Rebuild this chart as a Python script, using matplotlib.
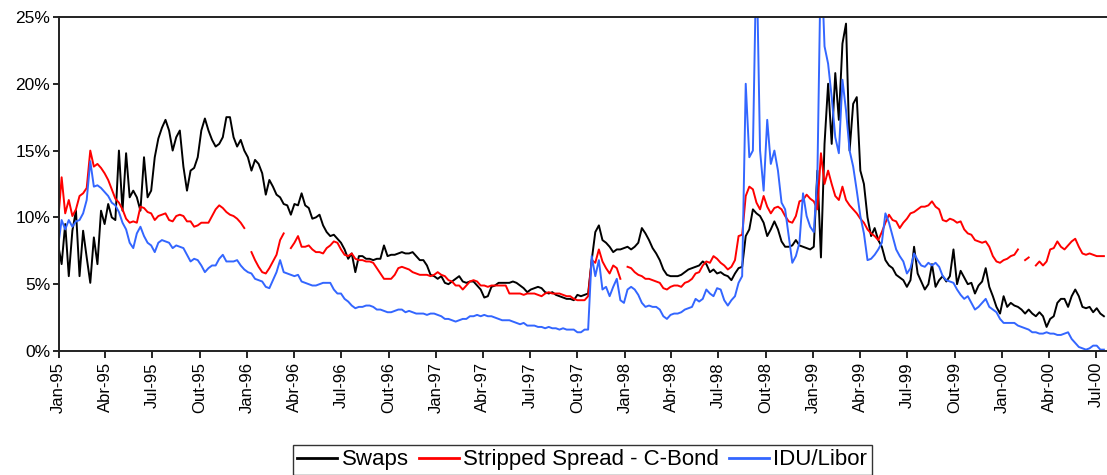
import numpy as np
import pandas as pd
import matplotlib
matplotlib.use('Agg')
import matplotlib.pyplot as plt

nan = np.nan

# roughly weekly readings, end of Dec-94 to mid Jul-00 (values in %)
dates = pd.date_range('1994-12-31', '2000-07-16', periods=293)

swaps = [
    8.0, 6.5, 9.5, 5.6, 9.0, 10.5, 5.6, 9.0, 7.0, 5.1,
    8.5, 6.5, 10.5, 9.5, 11.0, 10.0, 9.8, 15.0, 10.5, 14.8,
    11.5, 12.0, 11.5, 10.5, 14.5, 11.5, 12.0, 14.5, 15.9, 16.7,
    17.3, 16.5, 15.0, 16.0, 16.5, 13.8, 12.0,
    13.5, 13.7, 14.5, 16.5, 17.4, 16.5, 15.8, 15.3, 15.5, 16.0,
    17.5, 17.5, 16.0, 15.3, 15.8, 15.0, 14.5, 13.5, 14.3, 14.0,
    13.3, 11.7, 12.8, 12.3, 11.7, 11.5, 11.0, 10.9, 10.2, 11.0,
    10.9, 11.8, 10.9, 10.7, 9.9, 10.0, 10.2,
    9.4, 8.9, 8.6, 8.7, 8.4, 8.1, 7.6, 6.9, 7.3, 5.9,
    7.1, 7.1, 6.9, 6.9, 6.8, 6.9, 6.9, 7.9, 7.1, 7.2,
    7.2, 7.3, 7.4, 7.3, 7.3, 7.4, 7.1, 6.8, 6.8, 6.4,
    5.7, 5.6, 5.4, 5.6, 5.1, 5.0,
    5.2, 5.4, 5.6, 5.2, 5.1, 5.2, 5.2, 4.9, 4.6, 4.0,
    4.1, 4.8, 4.9, 5.1, 5.1, 5.1, 5.1, 5.2, 5.1, 4.9,
    4.7, 4.4, 4.6, 4.7, 4.8, 4.7, 4.4, 4.3, 4.4, 4.2,
    4.1, 4.0, 3.9, 3.9, 3.8, 4.2,
    4.1, 4.2, 4.3, 6.8, 8.9, 9.4, 8.3, 8.1, 7.8, 7.4,
    7.6, 7.6, 7.7, 7.8, 7.6, 7.8, 8.1, 9.2, 8.8, 8.3,
    7.7, 7.3, 6.8, 6.1, 5.7, 5.6, 5.6, 5.6, 5.7, 5.9,
    6.1, 6.2, 6.3, 6.4, 6.7, 6.5,
    5.9, 6.1, 5.8, 5.9, 5.7, 5.6, 5.3, 5.8, 6.2, 6.3,
    8.6, 9.1, 10.6, 10.3, 10.1, 9.6, 8.6, 9.1, 9.7, 9.1,
    8.2, 7.8, 7.8, 7.9, 8.3, 7.9, 7.8, 7.7, 7.6, 7.8,
    13.5, 7.0, 15.5, 20.0, 15.5, 20.8, 17.3,
    23.0, 24.5, 15.0, 18.5, 19.0, 13.5, 12.5, 10.0, 8.6, 9.2,
    8.3, 7.8, 6.8, 6.4, 6.2, 5.7, 5.5, 5.3, 4.8, 5.3,
    7.8, 5.8, 5.2, 4.6, 5.0, 6.5, 4.8, 5.3, 5.6, 5.2,
    5.6, 7.6, 5.0, 6.0, 5.5, 5.0,
    5.1, 4.3, 4.9, 5.2, 6.2, 4.8, 4.1, 3.3, 2.8, 4.1,
    3.3, 3.6, 3.4, 3.3, 3.1, 2.8, 3.1, 2.8, 2.6, 2.9,
    2.6, 1.8, 2.4, 2.6, 3.6, 3.9, 3.9, 3.3, 4.1, 4.6,
    4.1, 3.3, 3.2, 3.3, 2.9, 3.2, 2.8, 2.6,
]

c_bond = [
    9.6, 13.0, 10.3, 11.3, 10.1, 10.6, 11.6, 11.8, 12.2, 15.0,
    13.8, 14.0, 13.7, 13.3, 12.8, 12.1, 11.4, 11.1, 10.6, 9.9,
    9.6, 9.7, 9.6, 10.8, 10.7, 10.4, 10.3, 9.8, 10.1, 10.2,
    10.3, 9.8, 9.7, 10.1, 10.2, 10.1, 9.7,
    9.7, 9.3, 9.4, 9.6, 9.6, 9.6, 10.1, 10.6, 10.9, 10.7,
    10.4, 10.2, 10.1, 9.9, 9.6, 9.2, nan, 7.4, 6.8, 6.3,
    5.9, 5.8, 6.2, 6.7, 7.2, 8.3, 8.8, nan, 7.7, 8.1,
    8.6, 7.8, 7.8, 7.9, 7.6, 7.4, 7.4,
    7.3, 7.7, 7.9, 8.2, 8.1, 7.6, 7.2, 7.1, 7.3, 6.9,
    6.8, 6.8, 6.7, 6.7, 6.6, 6.2, 5.8, 5.4, 5.4, 5.4,
    5.7, 6.2, 6.3, 6.2, 6.1, 5.9, 5.8, 5.7, 5.7, 5.7,
    5.6, 5.7, 5.9, 5.7, 5.6, 5.3,
    5.2, 4.9, 4.9, 4.6, 4.9, 5.2, 5.3, 5.2, 4.9, 4.9,
    4.8, 4.9, 4.9, 4.9, 4.9, 4.9, 4.3, 4.3, 4.3, 4.3,
    4.2, 4.3, 4.3, 4.3, 4.2, 4.1, 4.3, 4.4, 4.3, 4.3,
    4.3, 4.2, 4.1, 4.1, 3.9, 3.8,
    3.8, 3.8, 4.1, 6.8, 6.6, 7.6, 6.7, 6.2, 5.8, 6.4,
    6.2, 5.4, nan, 6.3, 6.2, 5.9, 5.7, 5.6, 5.4, 5.4,
    5.3, 5.2, 5.1, 4.7, 4.6, 4.8, 4.9, 4.9, 4.8, 5.1,
    5.2, 5.4, 5.8, 5.9, 6.4, 6.7,
    6.6, 7.1, 6.9, 6.6, 6.4, 6.1, 6.3, 6.8, 8.6, 8.7,
    11.6, 12.3, 12.1, 11.1, 10.6, 11.6, 10.8, 10.3, 10.7, 10.8,
    10.6, 10.1, 9.7, 9.6, 10.1, 11.2, 11.3, 11.7, 11.4, 11.2,
    10.6, 14.8, 12.5, 13.5, 12.5, 11.6, 11.3,
    12.3, 11.3, 10.9, 10.6, 10.3, 9.9, 9.6, 9.1, 8.8, 8.6,
    8.3, 8.9, 9.6, 10.2, 9.8, 9.7, 9.2, 9.6, 9.9, 10.3,
    10.4, 10.6, 10.8, 10.8, 10.9, 11.2, 10.8, 10.6, 9.8, 9.7,
    9.9, 9.8, 9.6, 9.7, 9.1, 8.8,
    8.7, 8.3, 8.2, 8.1, 8.2, 7.8, 7.1, 6.7, 6.6, 6.8,
    6.9, 7.1, 7.2, 7.6, nan, 6.8, 7.0, nan, 6.4, 6.7,
    6.4, 6.7, 7.6, 7.7, 8.2, 7.8, 7.6, 7.9, 8.2, 8.4,
    7.8, 7.3, 7.2, 7.3, 7.2, 7.1, 7.1, 7.1,
]

idu_libor = [
    7.8, 9.8, 9.1, 9.8, 9.3, 9.7, 9.8, 10.3, 11.3, 14.2,
    12.3, 12.4, 12.2, 11.9, 11.6, 11.1, 10.9, 10.4, 9.6, 9.1,
    8.1, 7.7, 8.8, 9.3, 8.6, 8.1, 7.9, 7.4, 8.1, 8.3,
    8.2, 8.1, 7.7, 7.9, 7.8, 7.7, 7.2,
    6.7, 6.9, 6.8, 6.4, 5.9, 6.2, 6.4, 6.4, 6.9, 7.2,
    6.7, 6.7, 6.7, 6.8, 6.4, 6.1, 5.9, 5.8, 5.4, 5.3,
    5.2, 4.8, 4.7, 5.3, 5.9, 6.8, 5.9, 5.8, 5.7, 5.6,
    5.7, 5.2, 5.1, 5.0, 4.9, 4.9, 5.0,
    5.1, 5.1, 5.1, 4.6, 4.3, 4.3, 3.9, 3.7, 3.4, 3.2,
    3.3, 3.3, 3.4, 3.4, 3.3, 3.1, 3.1, 3.0, 2.9, 2.9,
    3.0, 3.1, 3.1, 2.9, 3.0, 2.9, 2.8, 2.8, 2.8, 2.7,
    2.8, 2.8, 2.7, 2.6, 2.4, 2.4,
    2.3, 2.2, 2.3, 2.4, 2.4, 2.6, 2.6, 2.7, 2.6, 2.7,
    2.6, 2.6, 2.5, 2.4, 2.3, 2.3, 2.3, 2.2, 2.1, 2.0,
    2.1, 1.9, 1.9, 1.9, 1.8, 1.8, 1.7, 1.8, 1.7, 1.7,
    1.6, 1.7, 1.6, 1.6, 1.6, 1.4,
    1.4, 1.6, 1.6, 7.1, 5.6, 6.8, 4.6, 4.8, 4.1, 4.8,
    5.4, 3.8, 3.6, 4.6, 4.8, 4.6, 4.2, 3.6, 3.3, 3.4,
    3.3, 3.3, 3.1, 2.6, 2.4, 2.7, 2.8, 2.8, 2.9, 3.1,
    3.2, 3.3, 3.9, 3.7, 3.9, 4.6,
    4.3, 4.1, 4.7, 4.6, 3.8, 3.4, 3.8, 4.1, 5.1, 5.6,
    20.0, 14.5, 15.0, 30.0, 15.0, 12.0, 17.3, 14.0, 15.0, 13.5,
    11.1, 10.6, 8.6, 6.6, 7.1, 8.1, 11.8, 10.1, 9.3, 8.9,
    13.0, 30.0, 22.8, 21.5, 19.0, 16.0, 14.8,
    20.3, 18.0, 15.0, 13.8, 12.0, 10.1, 8.8, 6.8, 6.9, 7.2,
    7.6, 8.1, 10.3, 9.6, 8.6, 7.6, 7.1, 6.7, 5.8, 6.2,
    7.3, 6.8, 6.4, 6.3, 6.6, 6.4, 6.6, 6.3, 5.6, 5.3,
    5.2, 5.1, 4.6, 4.2, 3.9, 4.1,
    3.6, 3.1, 3.3, 3.6, 3.9, 3.3, 3.1, 2.9, 2.4, 2.1,
    2.1, 2.1, 2.1, 1.9, 1.8, 1.7, 1.6, 1.4, 1.4, 1.3,
    1.3, 1.4, 1.3, 1.3, 1.2, 1.2, 1.3, 1.4, 0.9, 0.6,
    0.3, 0.2, 0.1, 0.2, 0.4, 0.4, 0.1, 0.1,
]

tick_dates = pd.date_range('1995-01-01', '2000-07-01', freq='QS')
tick_labels = ['Jan-95', 'Abr-95', 'Jul-95', 'Out-95', 'Jan-96', 'Abr-96',
               'Jul-96', 'Out-96', 'Jan-97', 'Abr-97', 'Jul-97', 'Out-97',
               'Jan-98', 'Abr-98', 'Jul-98', 'Out-98', 'Jan-99', 'Abr-99',
               'Jul-99', 'Out-99', 'Jan-00', 'Abr-00', 'Jul-00']

plt.rcParams['font.family'] = ['Liberation Sans', 'DejaVu Sans']

fig = plt.figure(figsize=(11.07, 4.75), dpi=100)
ax = fig.add_axes([0.0529, 0.2611, 0.9471, 0.7032])

ax.plot(dates, swaps, color='black', lw=1.4, label='Swaps')
ax.plot(dates, c_bond, color='#FF0000', lw=1.4, label='Stripped Spread - C-Bond')
ax.plot(dates, idu_libor, color='#3366FF', lw=1.4, label='IDU/Libor')

ax.set_xlim(pd.Timestamp('1995-01-01'), pd.Timestamp('2000-07-22'))
ax.set_ylim(0, 25)

ax.set_yticks(range(0, 26, 5))
ax.set_yticklabels([f'{v}%' for v in range(0, 26, 5)], fontsize=12.5)
ax.set_xticks(tick_dates)
ax.set_xticklabels(tick_labels, rotation=90, fontsize=12)

ax.tick_params(axis='x', direction='out', length=5, width=1.2, pad=3)
ax.tick_params(axis='y', direction='out', length=4, width=1.2, pad=2)
ax.spines['right'].set_visible(False)
for side in ['left', 'top', 'bottom']:
    ax.spines[side].set_linewidth(1.4)
    ax.spines[side].set_color('#222222')

leg = fig.legend(loc='upper center', bbox_to_anchor=(0.526, 0.0632), ncol=3,
                 fontsize=16, frameon=True, fancybox=False, edgecolor='black',
                 handlelength=1.8, handletextpad=0.2, columnspacing=0.45,
                 borderpad=0.2, borderaxespad=0)
leg.get_frame().set_linewidth(1.0)
for line in leg.get_lines():
    line.set_linewidth(2)

fig.savefig('out.png', dpi=100)
